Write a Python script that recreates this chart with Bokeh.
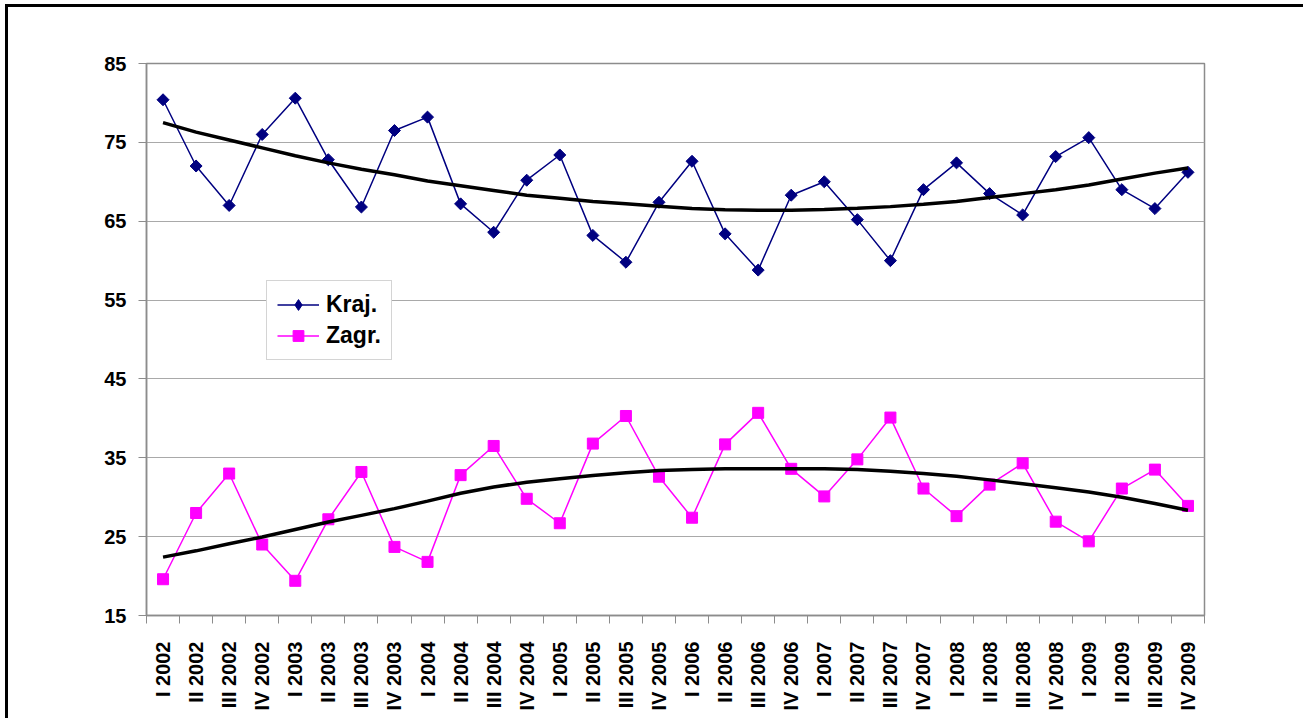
import math
from bokeh.plotting import figure
from bokeh.models import (ColumnDataSource, Range1d, FixedTicker, Legend, LegendItem)
from bokeh.embed import file_html
from bokeh.resources import INLINE

quarters = ["I", "II", "III", "IV"]
years = ["2002", "2003", "2004", "2005", "2006", "2007", "2008", "2009"]
categories = [f"{q} {y}" for y in years for q in quarters]

kraj = [80.4, 72.0, 67.0, 76.0, 80.6, 72.8, 66.8, 76.5,
        78.2, 67.2, 63.6, 70.2, 73.4, 63.2, 59.8, 67.4,
        72.6, 63.4, 58.8, 68.3, 70.0, 65.2, 60.0, 69.0,
        72.4, 68.5, 65.8, 73.2, 75.6, 69.0, 66.6, 71.2]

zagr = [19.6, 28.0, 33.0, 24.0, 19.4, 27.2, 33.2, 23.7,
        21.8, 32.8, 36.5, 29.8, 26.7, 36.8, 40.3, 32.6,
        27.4, 36.7, 40.7, 33.6, 30.1, 34.8, 40.1, 31.1,
        27.6, 31.6, 34.3, 26.9, 24.4, 31.1, 33.5, 28.9]

kraj_trend = [77.5, 76.3, 75.3, 74.3, 73.3, 72.4, 71.6, 70.9,
              70.1, 69.5, 68.9, 68.3, 67.9, 67.5, 67.2, 66.9,
              66.6, 66.45, 66.4, 66.4, 66.5, 66.65, 66.85, 67.15,
              67.5, 68.0, 68.5, 69.0, 69.6, 70.35, 71.1, 71.75]

zagr_trend = [22.4, 23.2, 24.1, 24.95, 25.9, 26.85, 27.7, 28.55,
              29.5, 30.5, 31.3, 31.9, 32.35, 32.75, 33.1, 33.4,
              33.5, 33.6, 33.6, 33.6, 33.6, 33.5, 33.3, 33.0,
              32.65, 32.2, 31.7, 31.2, 30.65, 30.0, 29.2, 28.35]

y_ticks = [15, 25, 35, 45, 55, 65, 75, 85]

idx = list(range(len(categories)))
src = ColumnDataSource(dict(x=idx, kraj=kraj, zagr=zagr,
                            kt=kraj_trend, zt=zagr_trend))

FONT = "Liberation Sans"
GRAY = "#8c8c8c"

p = figure(width=1298, height=714, output_backend="svg", toolbar_location=None,
           x_range=Range1d(-0.5, len(categories) - 0.5), y_range=Range1d(15, 85),
           min_border_left=138, min_border_right=102, min_border_top=56,
           min_border_bottom=106)
p.styles = {"border-top": "3px solid black", "border-left": "3px solid black",
            "margin-left": "5px", "margin-top": "4px"}

p.background_fill_color = "white"
p.border_fill_color = "white"
p.outline_line_color = GRAY
p.outline_line_width = 1.5

# grid
p.xgrid.visible = False
p.ygrid.grid_line_color = "#a9a9a9"
p.ygrid.grid_line_width = 1
p.yaxis.ticker = FixedTicker(ticks=y_ticks)

# y axis
p.yaxis.axis_line_color = GRAY
p.yaxis.axis_line_width = 1.5
p.yaxis.major_tick_line_color = GRAY
p.yaxis.major_tick_out = 8
p.yaxis.major_tick_in = 0
p.yaxis.minor_tick_line_color = None
p.yaxis.major_label_text_font = FONT
p.yaxis.major_label_text_font_style = "bold"
p.yaxis.major_label_text_font_size = "20px"
p.yaxis.major_label_text_color = "black"
p.yaxis.major_label_standoff = 12

# x axis
p.xaxis.ticker = FixedTicker(ticks=idx, minor_ticks=[i - 0.5 for i in range(len(categories) + 1)])
p.xaxis.major_label_overrides = {i: c for i, c in enumerate(categories)}
p.xaxis.axis_line_color = GRAY
p.xaxis.axis_line_width = 1.5
p.xaxis.major_tick_line_color = None
p.xaxis.major_tick_out = 0
p.xaxis.major_tick_in = 0
p.xaxis.minor_tick_line_color = GRAY
p.xaxis.minor_tick_out = 8
p.xaxis.minor_tick_in = 0
p.xaxis.major_label_orientation = math.pi / 2
p.xaxis.major_label_text_font = FONT
p.xaxis.major_label_text_font_style = "bold"
p.xaxis.major_label_text_font_size = "20px"
p.xaxis.major_label_text_color = "black"
p.xaxis.major_label_standoff = 18

# series
kl = p.line("x", "kraj", source=src, line_color="#000080", line_width=1.5)
km = p.scatter("x", "kraj", source=src, marker="square", angle=math.pi / 4,
               size=8.5, fill_color="#000080", line_color="#000080")
zl = p.line("x", "zagr", source=src, line_color="#ff00ff", line_width=1.5)
zm = p.scatter("x", "zagr", source=src, marker="square", size=11,
               fill_color="#ff00ff", line_color="#ff00ff")
p.line("x", "kt", source=src, line_color="black", line_width=3.5)
p.line("x", "zt", source=src, line_color="black", line_width=3.5)

# legend-only diamond glyph (one undrawable NaN point, used only by the legend)
kd = p.scatter(x=[float("nan")], y=[float("nan")], marker="diamond",
               fill_color="#000080", line_color="#000080")

legend = Legend(items=[LegendItem(label="Kraj.", renderers=[kl, kd]),
                       LegendItem(label="Zagr.", renderers=[zl, zm])],
                location=(120, 255))
legend.label_text_font = FONT
legend.label_text_font_style = "bold"
legend.label_text_font_size = "23px"
legend.label_text_color = "black"
legend.glyph_width = 42
legend.glyph_height = 27
legend.label_height = 27
legend.label_standoff = 7
legend.spacing = 4
legend.padding = 10
legend.margin = 0
legend.border_line_color = "#a9a9a9"
legend.border_line_width = 1
legend.background_fill_color = "white"
legend.background_fill_alpha = 1
p.add_layout(legend, "center")

open("out.html", "w").write(file_html(p, INLINE))
